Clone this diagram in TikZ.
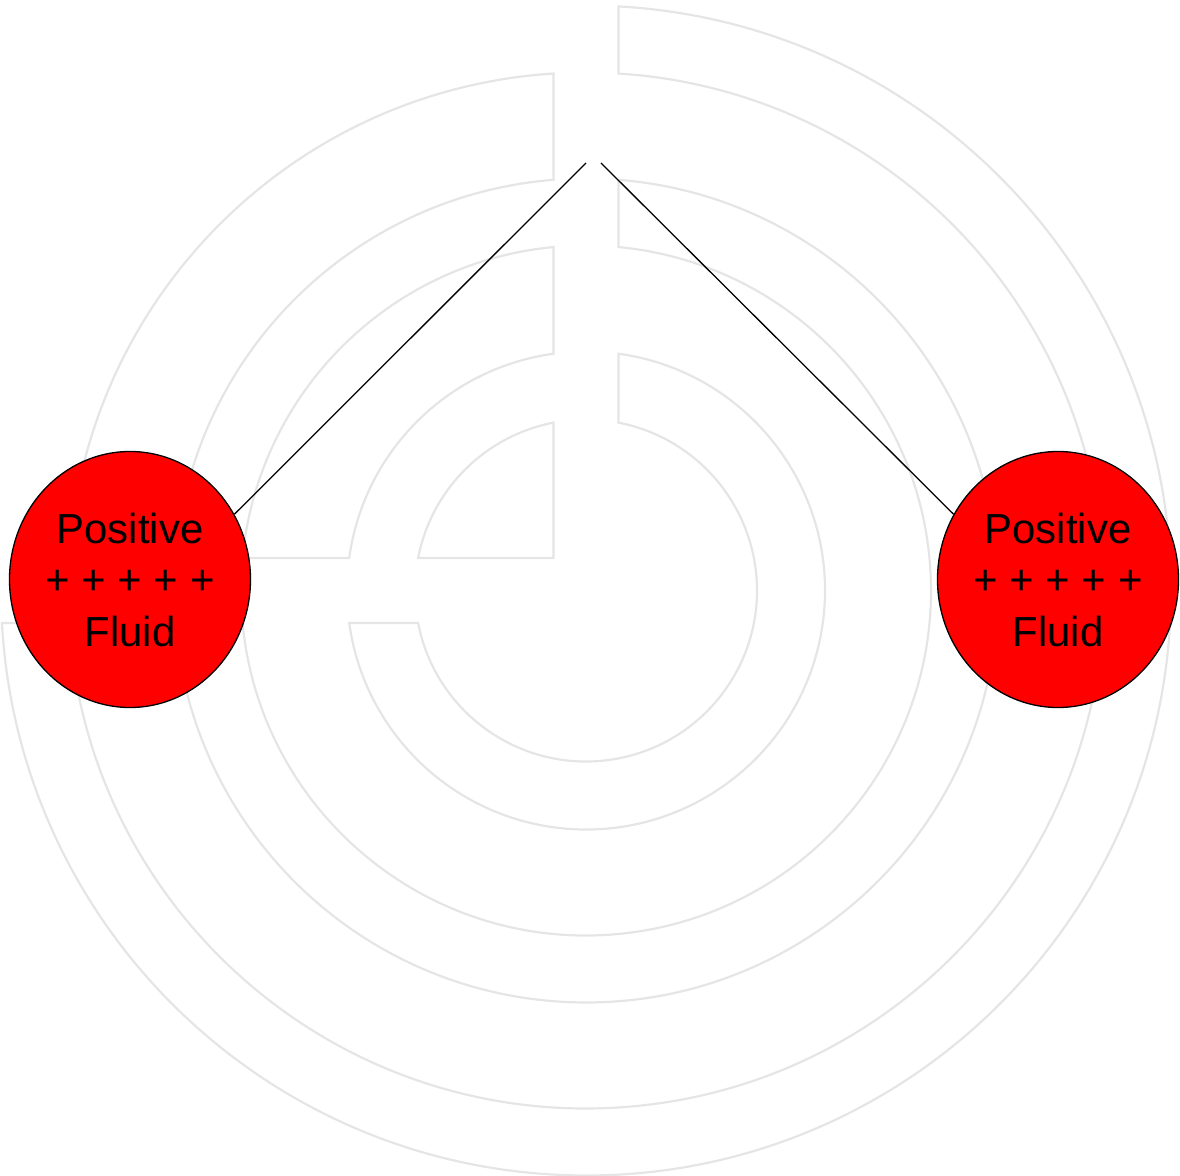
\documentclass[tikz,border=0pt]{standalone}
\usepackage{fontspec}
\setmainfont{Liberation Sans}
\usetikzlibrary{shapes.geometric}
\begin{document}
\begin{tikzpicture}[x=1pt,y=1pt,
  ring/.style={draw=gray!20, line width=2.2pt, line join=miter},
  charge/.style={ellipse, draw=black, line width=1.3pt, fill=red,
    minimum width=241pt, minimum height=256pt, inner sep=0pt, align=center,
    font=\fontsize{42}{51.5}\selectfont},
  link/.style={draw=black, line width=1.3pt}]
\useasboundingbox (-586,-584.5) rectangle (594,590.5);
\def\h{32.5}
% C-shaped bands (right, bottom and lower-left)
\foreach \a/\b in {171/239, 345/412, 518/585}{
  \draw[ring] ({90-asin(\h/\b)}:\b)
    arc[start angle={90-asin(\h/\b)}, end angle={-180+asin(\h/\b)}, radius=\b]
    -- ({-180+asin(\h/\a)}:\a)
    arc[start angle={-180+asin(\h/\a)}, end angle={90-asin(\h/\a)}, radius=\a]
    -- cycle;
}
% upper-left quadrant: inner sector
\draw[ring] (-\h,\h) -- ({90+asin(\h/171)}:171)
  arc[start angle={90+asin(\h/171)}, end angle={180-asin(\h/171)}, radius=171]
  -- cycle;
% upper-left quadrant bands
\foreach \a/\b in {239/345, 412/518}{
  \draw[ring] ({90+asin(\h/\b)}:\b)
    arc[start angle={90+asin(\h/\b)}, end angle={180-asin(\h/\b)}, radius=\b]
    -- ({180-asin(\h/\a)}:\a)
    arc[start angle={180-asin(\h/\a)}, end angle={90+asin(\h/\a)}, radius=\a]
    -- cycle;
}
% charges
\node[charge] (L) at (-456,11) {Positive\\+ + + + +\\Fluid};
\node[charge] (R) at (472,11) {Positive\\+ + + + +\\Fluid};
% connectors
\coordinate (apexL) at (0,427.5);
\coordinate (apexR) at (15,427.5);
\draw[link] (apexL) -- (L.32);
\draw[link] (apexR) -- (R.148);
\end{tikzpicture}
\end{document}
